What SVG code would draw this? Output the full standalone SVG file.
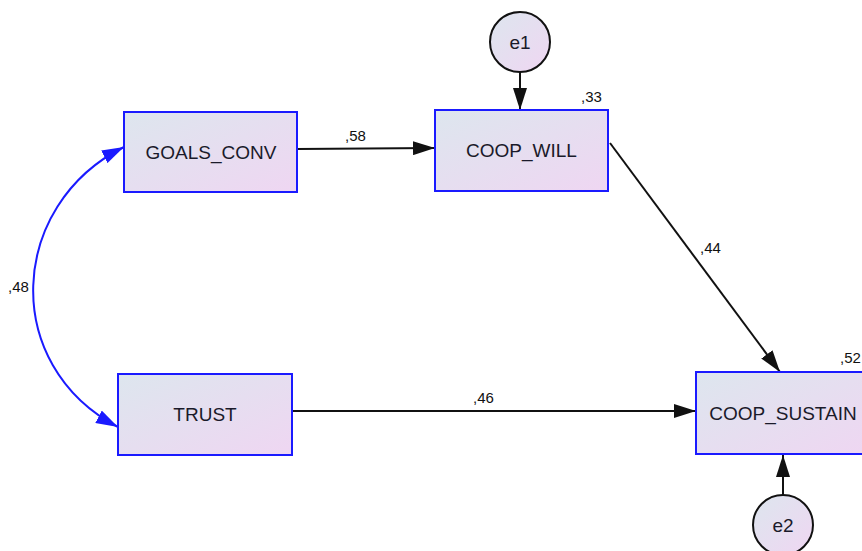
<svg xmlns="http://www.w3.org/2000/svg" width="862" height="551" viewBox="0 0 862 551">
<style>
.box{stroke:#1a1aff;stroke-width:2;fill:url(#g)}
.circ{stroke:#111;stroke-width:2;fill:url(#g)}
.lbl{font-family:"Liberation Sans",Arial,sans-serif;font-size:19px;fill:#1a1a2a;text-anchor:middle}
.num{font-family:"Liberation Sans",Arial,sans-serif;font-size:15px;fill:#111}
.path{stroke:#111;stroke-width:2;fill:none;marker-end:url(#ab)}
.cov{stroke:#1a1aff;stroke-width:2;fill:none;marker-start:url(#au);marker-end:url(#au2)}
</style>
<defs>
<linearGradient id="g" x1="0" y1="0" x2="1" y2="1">
<stop offset="0" stop-color="#dde6ee"/>
<stop offset="1" stop-color="#efd6f2"/>
</linearGradient>
<marker id="ab" viewBox="0 0 22 14" refX="22" refY="7" markerWidth="22" markerHeight="14" markerUnits="userSpaceOnUse" orient="auto">
<path d="M0,0 L22,7 L0,14 Z" fill="#111"/>
</marker>
<marker id="au" viewBox="0 0 22 14" refX="22" refY="7" markerWidth="22" markerHeight="14" markerUnits="userSpaceOnUse" orient="auto-start-reverse">
<path d="M0,0 L22,7 L0,14 Z" fill="#1a1aff"/>
</marker>
<marker id="au2" viewBox="0 0 22 14" refX="22" refY="7" markerWidth="22" markerHeight="14" markerUnits="userSpaceOnUse" orient="auto">
<path d="M0,0 L22,7 L0,14 Z" fill="#1a1aff"/>
</marker>
</defs>
<g id="connectors">
<path class="path" d="M297,149 L435,148"/>
<path class="path" d="M610,143 L780,372"/>
<path class="path" d="M292,411 L696,411"/>
<path class="path" d="M520,72 L520,110"/>
<path class="path" d="M783,495 L783,455"/>
<path class="cov" d="M124,147 C8,205 0,365 118,427"/>
<text class="num" x="345" y="141">,58</text>
<text class="num" x="700" y="253">,44</text>
<text class="num" x="473" y="403">,46</text>
<text class="num" x="8" y="292">,48</text>
</g>
<g id="GOALS_CONV">
<rect class="box" x="124" y="112" width="173" height="80"/>
<text class="lbl" x="211" y="159">GOALS_CONV</text>
</g>
<g id="COOP_WILL">
<rect class="box" x="435" y="110" width="173" height="81"/>
<text class="lbl" x="521.5" y="157">COOP_WILL</text>
<text class="num" x="581" y="102">,33</text>
</g>
<g id="TRUST">
<rect class="box" x="118" y="374" width="174" height="81"/>
<text class="lbl" x="205" y="421">TRUST</text>
</g>
<g id="COOP_SUSTAIN">
<rect class="box" x="696" y="372" width="175" height="82"/>
<text class="lbl" x="783" y="420">COOP_SUSTAIN</text>
<text class="num" x="840" y="363">,52</text>
</g>
<g id="e1">
<circle class="circ" cx="520" cy="42" r="30"/>
<text class="lbl" x="520" y="49">e1</text>
</g>
<g id="e2">
<circle class="circ" cx="783" cy="525" r="30"/>
<text class="lbl" x="783" y="532">e2</text>
</g>
</svg>
